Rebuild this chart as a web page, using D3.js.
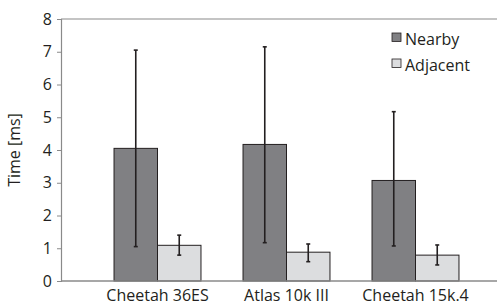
<html>
<script src='https://d3js.org/d3.v7.min.js'></script>
<style>
body { margin: 0; background: #fff; }
text { font-family: "Open Sans", sans-serif; fill: #231f20; }
</style>
<body onload='init()'>
<svg width=497 height=307></svg>
<script>
const categories = ["Cheetah 36ES", "Atlas 10k III", "Cheetah 15k.4"];
const series = ["Nearby", "Adjacent"];
const nearby = [4.05, 4.17, 3.07];
const nearbyLow = [1.05, 1.17, 1.07];
const nearbyHigh = [7.05, 7.15, 5.17];
const adjacent = [1.09, 0.88, 0.79];
const adjacentLow = [0.79, 0.59, 0.49];
const adjacentHigh = [1.40, 1.13, 1.10];
const yTicks = [0, 1, 2, 3, 4, 5, 6, 7, 8];

function init() {
    const svg = d3.select("svg");
    const colors = { Nearby: "#808083", Adjacent: "#dcdddf" };

    const y = d3.scaleLinear().domain([0, 8]).range([281, 19]);
    const x = d3.scaleBand().domain(categories).range([93, 480])
        .paddingInner(0.326).paddingOuter(0.163);
    const xs = d3.scaleBand().domain(series).range([0, x.bandwidth()]);

    const rows = [];
    categories.forEach((c, i) => {
        rows.push({ cat: c, s: "Nearby", v: nearby[i], lo: nearbyLow[i], hi: nearbyHigh[i] });
        rows.push({ cat: c, s: "Adjacent", v: adjacent[i], lo: adjacentLow[i], hi: adjacentHigh[i] });
    });

    // top frame line
    svg.append("line")
        .attr("x1", 61).attr("x2", 497)
        .attr("y1", y(8)).attr("y2", y(8))
        .attr("stroke", "#8a8a8a").attr("stroke-width", 1.2);

    // bars
    svg.selectAll("rect.bar")
        .data(rows)
        .enter()
        .append("rect")
        .attr("class", "bar")
        .attr("x", d => x(d.cat) + xs(d.s))
        .attr("y", d => y(d.v))
        .attr("width", xs.bandwidth())
        .attr("height", d => y(0) - y(d.v))
        .attr("fill", d => colors[d.s])
        .attr("stroke", "#231f20")
        .attr("stroke-width", 1);

    // error bars
    const eb = svg.selectAll("g.err")
        .data(rows)
        .enter()
        .append("g")
        .attr("transform", d => `translate(${x(d.cat) + xs(d.s) + xs.bandwidth() / 2},0)`)
        .attr("stroke", "#231f20").attr("stroke-width", 1.6);
    eb.append("line").attr("y1", d => y(d.lo)).attr("y2", d => y(d.hi));
    eb.append("line").attr("x1", -2).attr("x2", 2).attr("y1", d => y(d.lo)).attr("y2", d => y(d.lo));
    eb.append("line").attr("x1", -2).attr("x2", 2).attr("y1", d => y(d.hi)).attr("y2", d => y(d.hi));

    // y axis
    const yAxis = d3.axisLeft(y).tickValues(yTicks).tickSize(4).tickPadding(5).tickFormat(d3.format("d"));
    const gy = svg.append("g").attr("transform", "translate(61,0)").call(yAxis);
    gy.select(".domain").attr("stroke", "#8a8a8a").attr("stroke-width", 1.2);
    gy.selectAll(".tick line").attr("stroke", "#8a8a8a");
    gy.selectAll("text").style("font-size", "16px").attr("fill", "#231f20");

    // x axis
    const xAxis = d3.axisBottom(x).tickSize(0).tickPadding(9);
    const gx = svg.append("g").attr("transform", `translate(0,${y(0)})`).call(xAxis);
    gx.select(".domain").remove();
    gx.selectAll("text").style("font-size", "16px").attr("fill", "#231f20");
    svg.append("line")
        .attr("x1", 61).attr("x2", 497)
        .attr("y1", y(0)).attr("y2", y(0))
        .attr("stroke", "#8a8a8a").attr("stroke-width", 1.5);

    // y title
    svg.append("text")
        .attr("transform", `translate(20,${y(4)}) rotate(-90)`)
        .attr("text-anchor", "middle")
        .style("font-size", "16px")
        .text("Time [ms]");

    // legend
    const lg = svg.selectAll("g.legend")
        .data(series)
        .enter()
        .append("g")
        .attr("transform", (d, i) => `translate(392,${33 + i * 26})`);
    lg.append("rect").attr("width", 9).attr("height", 8.5)
        .attr("fill", d => colors[d]).attr("stroke", "#231f20").attr("stroke-width", 0.8);
    lg.append("text").attr("x", 13).attr("y", 11.5)
        .style("font-size", "16px")
        .text(d => d);
}
</script>
</body>
</html>
